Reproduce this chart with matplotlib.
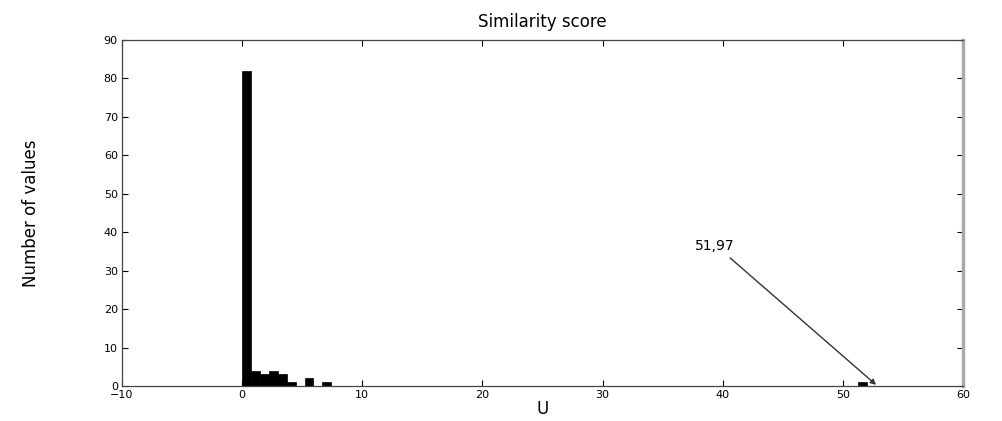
import matplotlib
matplotlib.use("Agg")
import matplotlib.pyplot as plt
import numpy as np

# histogram of similarity score U (70 bins from 0 to max value)
u_max = 51.97
n_bins = 70
counts = [82, 4, 3, 4, 3, 1, 0, 2, 0, 1] + [0] * 59 + [1]
x_ticks = [-10, 0, 10, 20, 30, 40, 50, 60]
y_ticks = [0, 10, 20, 30, 40, 50, 60, 70, 80, 90]
annot_text = "51,97"

edges = np.linspace(0, u_max, n_bins + 1)
width = edges[1] - edges[0]

fig = plt.figure(figsize=(10.03, 4.21), dpi=100)
ax = fig.add_axes([0.1216, 0.0831, 0.8385, 0.822])

ax.bar(edges[:-1], counts, width=width, align="edge", color="black", edgecolor="black", linewidth=0.5)

ax.set_xlim(-10, 60)
ax.set_ylim(0, 90)
ax.set_xticks(x_ticks)
ax.set_yticks(y_ticks)
ax.tick_params(direction="in", length=4, width=0.8, labelsize=8, top=True, right=True, pad=3)
for s in ax.spines.values():
    s.set_linewidth(0.9)
    s.set_color("#444444")
ax.spines["right"].set_linewidth(2.5)
ax.spines["right"].set_color("#aaaaaa")

ax.set_title("Similarity score", fontsize=12, pad=9)
ax.set_xlabel("U", fontsize=12, labelpad=0)
ax.set_ylabel("Number of values", fontsize=12, family=["Liberation Sans Narrow", "DejaVu Sans"], labelpad=46)

ax.annotate(annot_text, xy=(u_max + 0.8, 0.3), xytext=(37.7, 35.3), fontsize=10,
            arrowprops=dict(arrowstyle="-|>", color="#333333", lw=1.0, mutation_scale=8,
                            shrinkA=2, shrinkB=0, relpos=(0.75, 0)))

fig.savefig("out.png", dpi=100)
